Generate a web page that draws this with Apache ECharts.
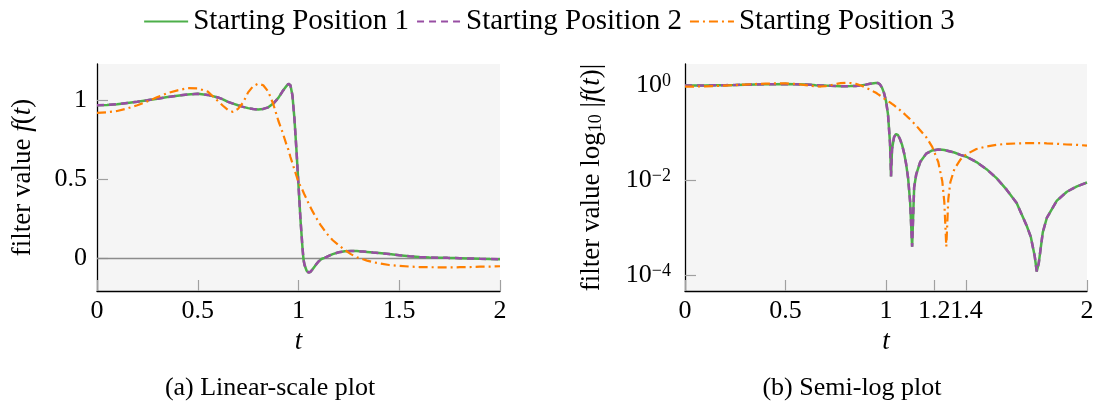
<!DOCTYPE html>
<html>
<head>
<meta charset="utf-8">
<script src="https://cdn.jsdelivr.net/npm/echarts@6/dist/echarts.min.js"></script>
<style>
html,body{margin:0;padding:0;background:#fff;}
#c{width:1098px;height:408px;}
</style>
</head>
<body>
<div id="c"></div>
<script>
// ---- data ----
const seriesNames = ['Starting Position 1', 'Starting Position 2', 'Starting Position 3'];
const t = [0, 0.05, 0.1, 0.15, 0.2, 0.25, 0.3, 0.35, 0.4, 0.45,
  0.5, 0.55, 0.6, 0.625, 0.65, 0.675, 0.7, 0.725, 0.75, 0.775,
  0.8, 0.825, 0.85, 0.875, 0.9, 0.92, 0.94, 0.95, 0.96, 0.97,
  0.98, 0.99, 1.0, 1.01, 1.02, 1.025, 1.03, 1.04, 1.05, 1.06,
  1.07, 1.08, 1.09, 1.1, 1.11, 1.12, 1.13, 1.14, 1.15, 1.17,
  1.2, 1.23, 1.26, 1.28, 1.29, 1.3, 1.31, 1.32, 1.34, 1.37,
  1.4, 1.45, 1.5, 1.55, 1.6, 1.65, 1.7, 1.72, 1.74, 1.75,
  1.76, 1.78, 1.8, 1.85, 1.9, 1.95, 2.0];
const pos1 = [0.968, 0.970, 0.975, 0.983, 0.991, 1.000, 1.010, 1.020, 1.029, 1.037,
  1.041, 1.034, 1.018, 1.006, 0.990, 0.979, 0.968, 0.958, 0.950, 0.944,
  0.941, 0.945, 0.955, 0.979, 1.015, 1.055, 1.090, 1.105, 1.095, 1.030,
  0.880, 0.680, 0.460, 0.240, 0.060, -0.012, -0.045, -0.080, -0.093, -0.088,
  -0.072, -0.055, -0.037, -0.022, -0.011, -0.0035, 0.0004, 0.007, 0.013, 0.024,
  0.036, 0.042, 0.044, 0.0435, 0.043, 0.042, 0.041, 0.040, 0.038, 0.034,
  0.031, 0.024, 0.017, 0.011, 0.0063, 0.0033, 0.0011, 0.00065, 0.00025, 0.00012,
  -0.00018, -0.0008, -0.0016, -0.0037, -0.0057, -0.0074, -0.0089];
const pos2 = [0.968, 0.970, 0.975, 0.983, 0.991, 1.000, 1.010, 1.020, 1.029, 1.037,
  1.041, 1.034, 1.018, 1.006, 0.990, 0.979, 0.968, 0.958, 0.950, 0.944,
  0.941, 0.945, 0.955, 0.979, 1.015, 1.055, 1.090, 1.105, 1.095, 1.030,
  0.880, 0.680, 0.460, 0.240, 0.060, -0.012, -0.045, -0.080, -0.093, -0.088,
  -0.072, -0.055, -0.037, -0.022, -0.011, -0.0035, 0.0004, 0.007, 0.013, 0.024,
  0.036, 0.042, 0.044, 0.0435, 0.043, 0.042, 0.041, 0.040, 0.038, 0.034,
  0.031, 0.024, 0.017, 0.011, 0.0063, 0.0033, 0.0011, 0.00065, 0.00025, 0.00012,
  -0.00018, -0.0008, -0.0016, -0.0037, -0.0057, -0.0074, -0.0089];
const pos3 = [0.920, 0.924, 0.932, 0.948, 0.968, 0.993, 1.020, 1.045, 1.063, 1.077,
  1.075, 1.055, 0.995, 0.965, 0.938, 0.926, 0.945, 0.985, 1.050, 1.090,
  1.105, 1.095, 1.055, 0.975, 0.870, 0.800, 0.720, 0.685, 0.640, 0.600,
  0.560, 0.520, 0.480, 0.455, 0.430, 0.415, 0.400, 0.375, 0.345, 0.320,
  0.295, 0.272, 0.250, 0.228, 0.208, 0.190, 0.172, 0.155, 0.140, 0.112,
  0.080, 0.050, 0.024, 0.0095, 0.0035, 0.0004, -0.004, -0.009, -0.017, -0.027,
  -0.035, -0.045, -0.051, -0.055, -0.058, -0.059, -0.060, -0.060, -0.060, -0.060,
  -0.060, -0.060, -0.059, -0.058, -0.056, -0.055, -0.053];

const linTicksX = [0, 0.5, 1, 1.5, 2];
const linTicksY = [0, 0.5, 1];
const semiTicksX = [0, 0.5, 1, 1.24, 1.4, 2];
const semiTickLabelsX = ['0', '0.5', '1', '1.2', '1.4', '2'];
const semiTicksY = [-4, -2, 0];   // exponents of 10
const captions = ['(a) Linear-scale plot', '(b) Semi-log plot'];

// ---- styling ----
const FONT = '"Liberation Serif", "Times New Roman", serif';
const colors = ['#4daf4a', '#984ea3', '#ff7f00'];
const lineTypes = ['solid', [7, 5], [9, 4, 2, 4]];
const widths = [2.5, 2.5, 2.2];
const allVals = [pos1, pos2, pos3];

const lin = (arr) => t.map((x, i) => [x, arr[i]]);
const logv = (arr) => t.map((x, i) => [x, Math.log10(Math.abs(arr[i]))]);

const tickStyle = {show: true, inside: true, length: 11, lineStyle: {color: '#a0a0a0', width: 1.2}};
const axisLineStyle = {show: true, onZero: false, lineStyle: {color: '#000', width: 1.3}};
const labelBase = {color: '#000', fontFamily: FONT, fontSize: 26};

const series = [];
for (let k = 0; k < 3; k++) {
  series.push({
    name: seriesNames[k], type: 'line', xAxisIndex: 0, yAxisIndex: 0,
    data: lin(allVals[k]), symbol: 'none', smooth: false,
    lineStyle: {color: colors[k], width: widths[k], type: lineTypes[k]},
    itemStyle: {color: colors[k]},
    z: 3 + k,
    markLine: k === 0 ? {silent: true, symbol: 'none', label: {show: false},
      lineStyle: {color: '#8c8c8c', width: 1.3, type: 'solid'}, data: [{yAxis: 0}], z: 1} : undefined
  });
}
for (let k = 0; k < 3; k++) {
  series.push({
    name: seriesNames[k], type: 'line', xAxisIndex: 1, yAxisIndex: 1,
    data: logv(allVals[k]), symbol: 'none', smooth: false,
    lineStyle: {color: colors[k], width: widths[k], type: lineTypes[k]},
    itemStyle: {color: colors[k]},
    z: 3 + k
  });
}

const chart = echarts.init(document.getElementById('c'), null, {renderer: 'canvas'});
chart.setOption({
  animation: false,
  backgroundColor: '#fff',
  legend: {
    data: seriesNames, top: 2, left: 'center',
    itemWidth: 44, itemHeight: 14, itemGap: 7,
    itemStyle: {opacity: 0},
    textStyle: {fontFamily: FONT, fontSize: 29, color: '#000'}
  },
  grid: [
    {left: 97, top: 64, width: 403, height: 227, show: true, backgroundColor: '#f5f5f5', borderWidth: 0},
    {left: 685, top: 64, width: 402, height: 227, show: true, backgroundColor: '#f5f5f5', borderWidth: 0}
  ],
  xAxis: [
    {gridIndex: 0, type: 'value', min: 0, max: 2,
     axisLine: axisLineStyle,
     axisTick: Object.assign({customValues: linTicksX}, tickStyle),
     axisLabel: Object.assign({customValues: linTicksX, margin: 7, formatter: v => String(v)}, labelBase),
     splitLine: {show: false},
     name: 't', nameLocation: 'middle', nameGap: 33,
     nameTextStyle: {fontFamily: FONT, fontSize: 27, fontStyle: 'italic', color: '#000'}},
    {gridIndex: 1, type: 'value', min: 0, max: 2,
     axisLine: axisLineStyle,
     axisTick: Object.assign({customValues: semiTicksX}, tickStyle),
     axisLabel: Object.assign({customValues: semiTicksX, margin: 7, hideOverlap: false,
       formatter: v => { const i = semiTicksX.findIndex(s => Math.abs(s - v) < 1e-6); return i >= 0 ? semiTickLabelsX[i] : ''; }}, labelBase),
     splitLine: {show: false},
     name: 't', nameLocation: 'middle', nameGap: 33,
     nameTextStyle: {fontFamily: FONT, fontSize: 27, fontStyle: 'italic', color: '#000'}}
  ],
  yAxis: [
    {gridIndex: 0, type: 'value', min: -0.21, max: 1.23,
     axisLine: axisLineStyle,
     axisTick: Object.assign({customValues: linTicksY}, tickStyle),
     axisLabel: Object.assign({customValues: linTicksY, margin: 10, formatter: v => String(v)}, labelBase),
     splitLine: {show: false},
     name: '{n|filter value }{i|f}{n|(}{i|t}{n|)}', nameLocation: 'middle', nameGap: 61, nameRotate: 90,
     nameTextStyle: {color: '#000', rich: {
       n: {fontFamily: FONT, fontSize: 27, color: '#000'},
       i: {fontFamily: FONT, fontSize: 27, fontStyle: 'italic', color: '#000'}}}},
    {gridIndex: 1, type: 'value', min: -4.33, max: 0.44,
     axisLine: axisLineStyle,
     axisTick: Object.assign({customValues: semiTicksY}, tickStyle),
     axisLabel: {customValues: semiTicksY, margin: 14, color: '#000',
       formatter: v => '{b|10}{s|' + (v === 0 ? '0' : '\u2212' + Math.abs(v)) + '}',
       rich: {
         b: {fontFamily: FONT, fontSize: 26, lineHeight: 26, color: '#000'},
         s: {fontFamily: FONT, fontSize: 18, lineHeight: 12, verticalAlign: 'top', color: '#000'}
       }},
     splitLine: {show: false},
     name: '{n|filter value log}{sub|10}{n| |}{i|f}{n|(}{i|t}{n|)|}', nameLocation: 'middle', nameGap: 80, nameRotate: 90,
     nameTextStyle: {color: '#000', rich: {
       n: {fontFamily: FONT, fontSize: 27, lineHeight: 27, color: '#000'},
       i: {fontFamily: FONT, fontSize: 27, lineHeight: 27, fontStyle: 'italic', color: '#000'},
       sub: {fontFamily: FONT, fontSize: 18, lineHeight: 12, verticalAlign: 'bottom', color: '#000'}}}}
  ],
  graphic: [
    {type: 'text', x: 270, y: 388, style: {text: captions[0], fill: '#000', font: '26px ' + FONT, textAlign: 'center', textVerticalAlign: 'middle'}},
    {type: 'text', x: 852, y: 388, style: {text: captions[1], fill: '#000', font: '26px ' + FONT, textAlign: 'center', textVerticalAlign: 'middle'}}
  ],
  series: series
});
</script>
</body>
</html>
